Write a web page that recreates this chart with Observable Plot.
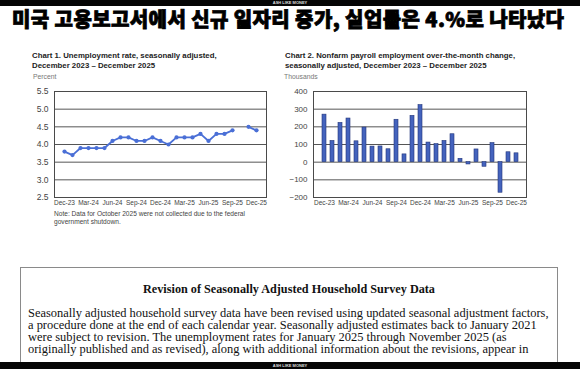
<!DOCTYPE html>
<html><head><meta charset="utf-8">
<script src="https://cdn.jsdelivr.net/npm/d3@7"></script>
<script src="https://cdn.jsdelivr.net/npm/@observablehq/plot@0.6"></script>
<style>
html,body{margin:0;padding:0;}
body{width:580px;height:369px;overflow:hidden;background:#fff;position:relative;font-family:"Liberation Sans",Arial,sans-serif;}
.abs{position:absolute;white-space:nowrap;}
.bar{position:absolute;left:0;width:580px;background:#050505;color:#ddd;font-size:4px;font-weight:bold;text-align:center;}
.ctitle{font-size:7.8px;font-weight:bold;line-height:9.5px;color:#222;}
.unit{font-size:6.8px;color:#777;}
.note{font-size:6.6px;line-height:7.8px;color:#444;}
.doc{position:absolute;left:20px;top:267px;width:536px;height:120px;border:1px solid #8a8a8a;font-family:"Liberation Serif","Times New Roman",serif;color:#111;}
.doc h3{margin:0;position:absolute;top:14px;left:0;width:100%;text-align:center;font-size:12.2px;font-weight:bold;}
.doc p{margin:0;position:absolute;top:39px;left:7px;font-size:12.45px;line-height:12px;white-space:pre;}
</style></head><body>
<div class="bar" style="top:0;height:6px;line-height:6px;">ASH LIKE MONEY</div>
<div class="abs" style="left:12px;top:6px;font-family:'Noto Sans CJK KR',sans-serif;font-weight:900;font-size:20px;letter-spacing:0.4px;line-height:26px;color:#000;-webkit-text-stroke:0.8px #000;">미국 고용보고서에서 신규 일자리 증가, 실업률은 4.%로 나타났다</div>

<div class="abs ctitle" style="left:32px;top:51px;">Chart 1. Unemployment rate, seasonally adjusted,<br>December 2023 – December 2025</div>
<div class="abs unit" style="left:33px;top:73px;">Percent</div>
<div id="c1" class="abs" style="left:0;top:80px;"></div>
<div class="abs note" style="left:54px;top:210px;">Note: Data for October 2025 were not collected due to the federal<br>government shutdown.</div>

<div class="abs ctitle" style="left:285px;top:51px;">Chart 2. Nonfarm payroll employment over-the-month change,<br>seasonally adjusted, December 2023 – December 2025</div>
<div class="abs unit" style="left:284px;top:73px;">Thousands</div>
<div id="c2" class="abs" style="left:270px;top:80px;"></div>

<div class="doc">
<h3>Revision of Seasonally Adjusted Household Survey Data</h3>
<p>Seasonally adjusted household survey data have been revised using updated seasonal adjustment factors,
a procedure done at the end of each calendar year. Seasonally adjusted estimates back to January 2021
were subject to revision. The unemployment rates for January 2025 through November 2025 (as
originally published and as revised), along with additional information about the revisions, appear in</p>
</div>
<div class="bar" style="top:362px;height:7px;line-height:7px;">ASH LIKE MONEY</div>

<script>
const months = ["Dec-23","Jan-24","Feb-24","Mar-24","Apr-24","May-24","Jun-24","Jul-24","Aug-24","Sep-24","Oct-24","Nov-24","Dec-24","Jan-25","Feb-25","Mar-25","Apr-25","May-25","Jun-25","Jul-25","Aug-25","Sep-25","Oct-25","Nov-25","Dec-25"];
const unemploymentRate = [3.8,3.7,3.9,3.9,3.9,3.9,4.1,4.2,4.2,4.1,4.1,4.2,4.1,4.0,4.2,4.2,4.2,4.3,4.1,4.3,4.3,4.4,null,4.5,4.4];
const payrollChange = [269,120,222,247,118,196,88,89,73,240,44,262,323,111,102,120,158,19,-13,72,-26,108,-173,56,50];
const xTickLabels = ["Dec-23","Mar-24","Jun-24","Sep-24","Dec-24","Mar-25","Jun-25","Sep-25","Dec-25"];
const rateTicks = [2.5,3.0,3.5,4.0,4.5,5.0,5.5];
const payrollTicks = [-200,-100,0,100,200,300,400];

const rateData = months.map((m,i)=>({month:m, rate:unemploymentRate[i]}));
const payData = months.map((m,i)=>({month:m, change:payrollChange[i]}));

const common = {style:{background:"transparent", fontFamily:"'Liberation Sans', Arial, sans-serif", color:"#444"}};

const c1 = Plot.plot({
  ...common,
  width:280, height:140, marginLeft:54, marginRight:14, marginTop:11, marginBottom:23,
  x:{type:"point", domain:months, padding:0, axis:null},
  y:{domain:[2.5,5.5], axis:null},
  marks:[
    Plot.ruleY(rateTicks,{stroke:"#555", strokeWidth:1}),
    Plot.frame({stroke:"#4a4a4a"}),
    Plot.axisY(rateTicks,{tickSize:0, tickPadding:6, fontSize:8.5, label:null, tickFormat:d=>d.toFixed(1)}),
    Plot.axisX(xTickLabels,{tickSize:0, tickPadding:3, fontSize:6.5, label:null}),
    Plot.line(rateData,{x:"month", y:"rate", stroke:"#4a6fd6", strokeWidth:1.8}),
    Plot.dot(rateData.filter(d=>d.rate!=null),{x:"month", y:"rate", r:2.1, fill:"#4a6fd6"})
  ]
});
document.getElementById("c1").appendChild(c1);

const c2 = Plot.plot({
  ...common,
  width:270, height:140, marginLeft:43, marginRight:14, marginTop:11, marginBottom:23,
  x:{type:"band", domain:months, paddingInner:0.53, paddingOuter:0.3, axis:null},
  y:{domain:[-200,400], axis:null},
  marks:[
    Plot.ruleY(payrollTicks,{stroke:"#555", strokeWidth:1}),
    Plot.frame({stroke:"#4a4a4a"}),
    Plot.barY(payData,{x:"month", y:"change", fill:"#4463bd", stroke:"#22357a", strokeWidth:0.6}),
    Plot.axisY(payrollTicks,{tickSize:0, tickPadding:6, fontSize:8, label:null}),
    Plot.axisX(xTickLabels,{tickSize:0, tickPadding:3, fontSize:6.5, label:null})
  ]
});
document.getElementById("c2").appendChild(c2);
</script>
</body></html>
